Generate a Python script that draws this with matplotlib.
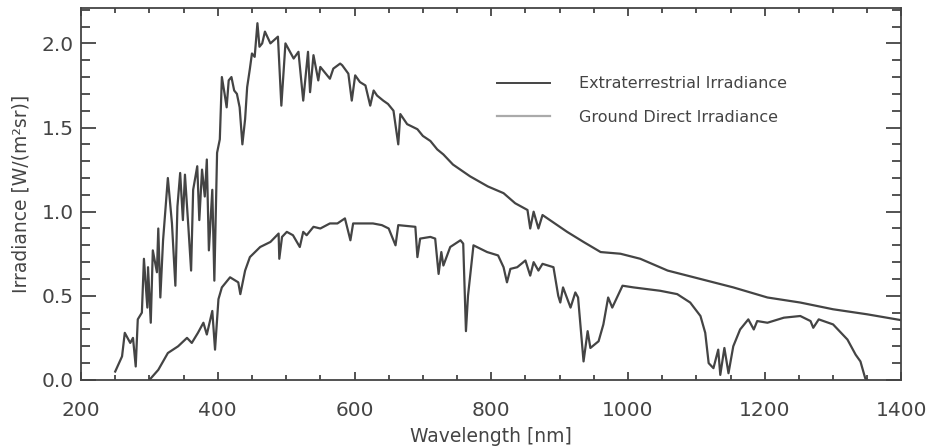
import numpy as np
import matplotlib.pyplot as plt
from matplotlib.lines import Line2D
from matplotlib.ticker import MultipleLocator

# extraterrestrial irradiance
ext_wl = [250, 260, 264, 272, 276, 280, 283, 289, 292, 297, 298, 302, 305, 311, 313, 316,
          320, 327, 333, 338, 341, 345, 349, 352, 357, 361, 364, 370, 373, 377, 381, 384,
          387, 392, 395, 399, 403, 406, 410, 413, 416, 420, 424, 428, 432, 436, 440, 443,
          447, 450, 454, 458, 461, 465, 469, 477, 488, 493, 499, 511, 518, 525, 532, 535,
          540, 547, 550, 564, 569, 579, 582, 591, 596, 601, 608, 616, 623, 628, 633, 642,
          649, 657, 664, 667, 677, 692, 700, 711, 721, 730, 744, 769, 795, 818, 835, 853,
          857, 862, 869, 875, 911, 935, 960, 989, 1018, 1058, 1106, 1154, 1204, 1252, 1300,
          1350, 1400]
ext_val = [0.05, 0.14, 0.28, 0.22, 0.25, 0.08, 0.36, 0.40, 0.72, 0.43, 0.67, 0.34, 0.77, 0.64,
           0.90, 0.49, 0.83, 1.20, 0.93, 0.56, 1.03, 1.23, 0.95, 1.22, 0.91, 0.65, 1.13, 1.27,
           0.95, 1.25, 1.09, 1.31, 0.77, 1.13, 0.59, 1.35, 1.43, 1.80, 1.70, 1.62, 1.78, 1.80,
           1.72, 1.70, 1.62, 1.40, 1.55, 1.74, 1.85, 1.94, 1.92, 2.12, 1.98, 2.00, 2.07, 2.00,
           2.04, 1.63, 2.00, 1.91, 1.95, 1.66, 1.95, 1.71, 1.93, 1.78, 1.86, 1.79, 1.85, 1.88,
           1.87, 1.82, 1.66, 1.81, 1.77, 1.75, 1.63, 1.72, 1.69, 1.66, 1.64, 1.60, 1.40, 1.58,
           1.52, 1.49, 1.45, 1.42, 1.37, 1.34, 1.28, 1.21, 1.15, 1.11, 1.05, 1.01, 0.90, 1.00,
           0.90, 0.98, 0.88, 0.82, 0.76, 0.75, 0.72, 0.65, 0.60, 0.55, 0.49, 0.46, 0.42, 0.39,
           0.355]

# ground direct irradiance
gnd_wl = [300, 313, 327, 342, 355, 362, 371, 379, 384, 392, 396, 401, 406, 418, 430, 433,
          440, 447, 462, 477, 489, 490, 494, 501, 510, 520, 525, 530, 540, 550, 564, 575,
          586, 594, 598, 627, 640, 650, 660, 664, 689, 692, 696, 711, 718, 723, 727, 730,
          740, 755, 759, 763, 766, 774, 794, 810, 818, 823, 828, 838, 850, 857, 862, 869,
          875, 891, 898, 901, 905, 916, 923, 927, 935, 941, 945, 957, 964, 971, 977, 992,
          1008, 1047, 1072, 1091, 1106, 1113, 1118, 1125, 1132, 1135, 1141, 1147, 1154,
          1164, 1176, 1184, 1189, 1204, 1228, 1252, 1267, 1271, 1279, 1300, 1321, 1333,
          1340, 1347, 1350]
gnd_val = [0.0, 0.06, 0.16, 0.20, 0.25, 0.22, 0.28, 0.34, 0.27, 0.41, 0.18, 0.48, 0.55, 0.61,
           0.58, 0.51, 0.65, 0.73, 0.79, 0.82, 0.87, 0.72, 0.85, 0.88, 0.86, 0.79, 0.88, 0.86,
           0.91, 0.90, 0.93, 0.93, 0.96, 0.83, 0.93, 0.93, 0.92, 0.90, 0.80, 0.92, 0.91, 0.73,
           0.84, 0.85, 0.84, 0.63, 0.76, 0.68, 0.79, 0.83, 0.81, 0.29, 0.50, 0.80, 0.76, 0.74,
           0.67, 0.58, 0.66, 0.67, 0.71, 0.62, 0.70, 0.65, 0.69, 0.67, 0.50, 0.46, 0.55, 0.43,
           0.52, 0.49, 0.11, 0.29, 0.19, 0.23, 0.33, 0.49, 0.43, 0.56, 0.55, 0.53, 0.51, 0.46,
           0.38, 0.28, 0.10, 0.07, 0.18, 0.03, 0.19, 0.04, 0.20, 0.30, 0.36, 0.30, 0.35, 0.34,
           0.37, 0.38, 0.35, 0.31, 0.36, 0.33, 0.24, 0.15, 0.11, 0.01, 0.0]

labels = ["Extraterrestrial Irradiance", "Ground Direct Irradiance"]

ink = "#444444"
plt.rcParams['font.family'] = ['DejaVu Sans']

fig = plt.figure(figsize=(9.26, 4.47), dpi=100)
ax = fig.add_axes([0.0875, 0.15, 0.886, 0.832])

ax.plot(ext_wl, ext_val, color=ink, lw=1.6)
ax.plot(gnd_wl, gnd_val, color=ink, lw=1.6)

ax.set_xlim(200, 1400)
ax.set_ylim(0, 2.21)
ax.xaxis.set_major_locator(MultipleLocator(200))
ax.xaxis.set_minor_locator(MultipleLocator(50))
ax.yaxis.set_major_locator(MultipleLocator(0.5))
ax.yaxis.set_minor_locator(MultipleLocator(0.1))
ax.yaxis.set_major_formatter(plt.FormatStrFormatter('%.1f'))

ax.tick_params(axis='both', which='both', direction='in', colors=ink,
               top=True, right=True, labelsize=14.5, width=1.3)
ax.tick_params(axis='x', which='major', length=6, pad=15)
ax.tick_params(axis='x', which='minor', length=3.5)
ax.tick_params(axis='y', which='major', length=11, pad=5)
ax.tick_params(axis='y', which='minor', length=6.5)
for s in ax.spines.values():
    s.set_color(ink)
    s.set_linewidth(1.3)

ax.set_xlabel("Wavelength [nm]", fontsize=13.5, color=ink, labelpad=5)
ax.set_ylabel("Irradiance [W/(m²sr)]", fontsize=13.5, color=ink, labelpad=8)

handles = [Line2D([], [], color=ink, lw=1.4),
           Line2D([], [], color="#aaaaaa", lw=1.6)]
ax.legend(handles, labels, loc='upper left', bbox_to_anchor=(0.49, 0.855),
          frameon=False, fontsize=11.5, handlelength=3.3, handletextpad=1.8,
          labelspacing=1.15, labelcolor=ink)

fig.savefig("out.png", dpi=100)
